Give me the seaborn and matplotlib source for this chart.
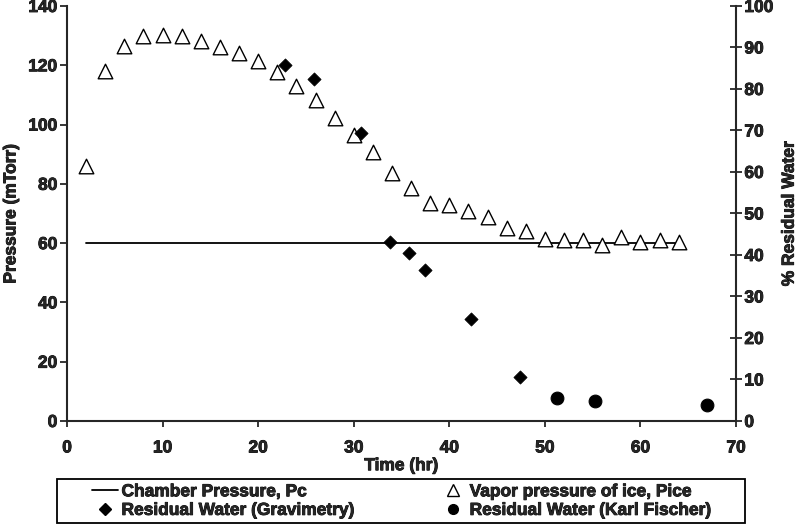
import matplotlib
matplotlib.use("Agg")
import matplotlib.pyplot as plt
import matplotlib.patheffects as pe
from matplotlib.lines import Line2D
from matplotlib.patches import Rectangle
import seaborn as sns

# vapor pressure of ice (mTorr), every 2 hr
ice_time = [2, 4, 6, 8, 10, 12, 14, 16, 18, 20, 22, 24, 26, 28, 30, 32,
            34, 36, 38, 40, 42, 44, 46, 48, 50, 52, 54, 56, 58, 60, 62, 64]
ice_p = [86, 118, 126.5, 130, 130.2, 130, 128.2, 126.1, 124.1, 121.4, 117.7, 112.9,
         108.2, 102.1, 96.4, 90.6, 83.8, 78.7, 73.5, 72.9, 70.8, 68.9, 65.2, 64.2,
         61.4, 61.2, 61.2, 59.3, 62.1, 60.3, 61.0, 60.3]

# chamber pressure setpoint
pc_time = [2, 64]
pc_p = [60, 60]

# residual water, % (right axis)
grav_time = [22.8, 25.8, 30.8, 33.8, 35.75, 37.5, 42.3, 47.4]
grav_pct = [85.8, 82.5, 69.5, 43.2, 40.4, 36.5, 24.5, 10.6]
kf_time = [51.3, 55.2, 67.0]
kf_pct = [5.6, 4.7, 3.8]

x_ticks = [0, 10, 20, 30, 40, 50, 60, 70]
p_ticks = [0, 20, 40, 60, 80, 100, 120, 140]
pct_ticks = [0, 10, 20, 30, 40, 50, 60, 70, 80, 90, 100]

sns.set_style("ticks")
plt.rcParams['font.family'] = ['Liberation Sans', 'DejaVu Sans']
plt.rcParams['font.weight'] = 'bold'
plt.rcParams['axes.labelweight'] = 'bold'
plt.rcParams['xtick.labelsize'] = 12.5
plt.rcParams['ytick.labelsize'] = 12.5

# the original text is a heavy bold, thicken it a little
heavy = [pe.withStroke(linewidth=0.6, foreground="black")]

fig = plt.figure(figsize=(7.99, 5.24), dpi=100)
ax = fig.add_axes([0.0839, 0.1966, 0.8373, 0.7920])

sns.lineplot(x=pc_time, y=pc_p, ax=ax, color="black", linewidth=1.3)
sns.scatterplot(x=ice_time, y=ice_p, ax=ax, marker="^", s=110,
                facecolor="white", edgecolor="black", linewidth=1.0, zorder=3)

ax2 = ax.twinx()
sns.scatterplot(x=grav_time, y=grav_pct, ax=ax2, marker="D", s=45,
                color="black", edgecolor="black", zorder=4)
sns.scatterplot(x=kf_time, y=kf_pct, ax=ax2, marker="o", s=85,
                color="black", edgecolor="black", zorder=4)

ax.set_xlim(0, 70)
ax.set_ylim(0, 140)
ax2.set_ylim(0, 100)
ax.set_xticks(x_ticks)
ax.set_yticks(p_ticks)
ax2.set_yticks(pct_ticks)

for a in (ax, ax2):
    for s in a.spines.values():
        s.set_linewidth(1.5)
    a.spines['top'].set_visible(False)
ax.spines['right'].set_visible(False)
ax2.spines['left'].set_visible(False)
ax2.spines['bottom'].set_visible(False)

ax.tick_params(axis='x', direction='out', length=4, width=1.3, pad=10)
ax.tick_params(axis='y', direction='out', length=5, width=1.3, pad=2)
ax2.tick_params(axis='y', direction='inout', length=8, width=1.3, pad=2)

lab_font = dict(fontsize=12.5, fontweight='bold', path_effects=heavy)
ax.set_xlabel("Time (hr)", labelpad=2, **lab_font)
ax.set_ylabel("Pressure (mTorr)", labelpad=7, **lab_font)
ax2.set_ylabel("% Residual Water", labelpad=6, **lab_font)

# legend box
fig.patches.append(Rectangle((57 / 799, 1 - 523 / 524), 688 / 799, 44 / 524,
                             transform=fig.transFigure, fill=False,
                             edgecolor="black", linewidth=1.3))

handles = [
    Line2D([], [], color="black", linewidth=1.3),
    Line2D([], [], color="black", marker="D", linestyle="none", markersize=6),
    Line2D([], [], color="black", marker="^", linestyle="none", markersize=8,
           markerfacecolor="white", markeredgewidth=1.0),
    Line2D([], [], color="black", marker="o", linestyle="none", markersize=7),
]
labels = ["Chamber Pressure, Pc", "Residual Water (Gravimetry)",
          "Vapor pressure of ice, Pice", "Residual Water (Karl Fischer)"]
leg = fig.legend(handles, labels, ncol=2, loc="center",
                 bbox_to_anchor=(92 / 799, 1 - 522 / 524, 620 / 799, 42 / 524),
                 mode="expand", frameon=False,
                 prop={'size': 12.5, 'weight': 'bold'}, handlelength=1.5,
                 handletextpad=0.2, labelspacing=0.2, borderpad=0.0,
                 borderaxespad=0.0)
for t in leg.get_texts():
    t.set_path_effects(heavy)

# style tick labels after a draw so every tick object exists
fig.canvas.draw()
for lab in ax.get_xticklabels() + ax.get_yticklabels() + ax2.get_yticklabels():
    lab.set_fontweight('bold')
    lab.set_fontsize(12.5)
    lab.set_path_effects(heavy)

fig.savefig("out.png", dpi=100)
